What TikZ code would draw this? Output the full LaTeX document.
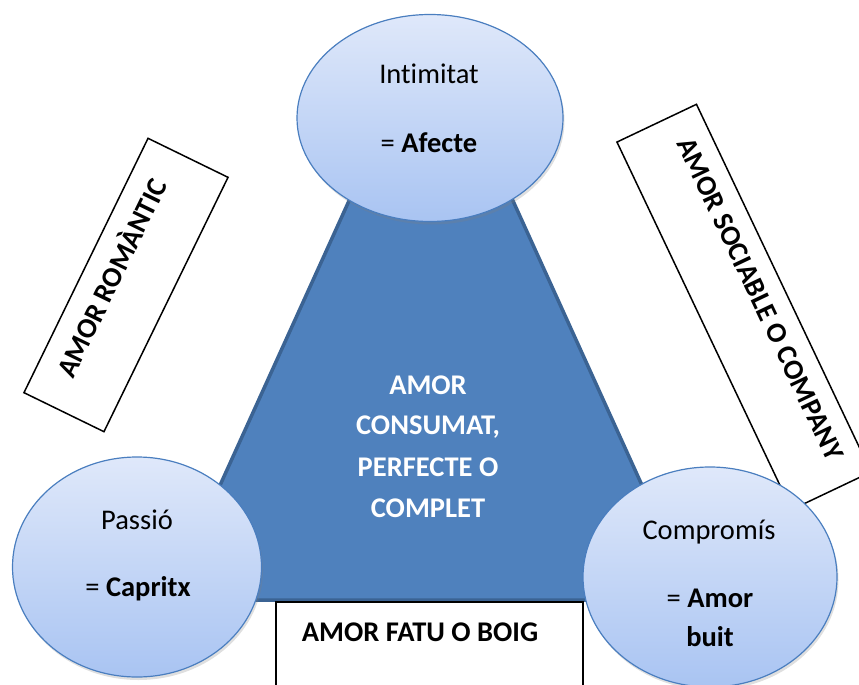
\documentclass[tikz,border=0pt]{standalone}
\usepackage{fontspec}
\setmainfont{Carlito}[Ligatures=NoCommon]
\usetikzlibrary{shapes.geometric,shadows}
\definecolor{triblue}{HTML}{4F81BD}
\definecolor{triedge}{HTML}{3B6393}
\definecolor{elltop}{HTML}{DFE8FA}
\definecolor{ellbot}{HTML}{A9C4F2}
\definecolor{elledge}{HTML}{4A7EBF}
\tikzset{
  txt/.style={inner sep=0pt, anchor=base, font=\fontsize{28.5}{34}\selectfont},
  btxt/.style={txt, font=\fontsize{28.5}{34}\selectfont\bfseries},
  wtxt/.style={btxt, text=white},
  labelbox/.style={draw=black, line width=1.5pt, fill=white, inner sep=0pt,
    font=\fontsize{28.5}{34}\selectfont\bfseries, text height=20pt},
  bubble/.style={ellipse, draw=elledge, line width=1.2pt, inner sep=0pt,
    top color=elltop, bottom color=ellbot,
    drop shadow={opacity=0.25, shadow xshift=1.5pt, shadow yshift=-3pt}},
}
\begin{document}
\begin{tikzpicture}[x=1pt,y=-1pt]
\useasboundingbox (0,0) rectangle (859,685);
\clip (0,0) rectangle (859,685);
% central triangle
\coordinate (apex) at (431,20);
\coordinate (bl) at (168,600);
\coordinate (br) at (694,600);
\fill[triblue] (apex) -- (bl) -- (br) -- cycle;
\draw[triedge, line width=3.5pt, line join=round] (apex) -- (bl) -- (br) -- cycle;
\node[wtxt] (t1) at (428,394) {AMOR};
\node[wtxt] (t2) at (428,434) {CONSUMAT,};
\node[wtxt] (t3) at (428,476) {PERFECTE O};
\node[wtxt] (t4) at (428,517) {COMPLET};
% label boxes
\node[labelbox, rotate=64, minimum width=283pt, minimum height=89pt, text depth=32pt] (rom) at (126,285) {AMOR ROMÀNTIC};
\node[labelbox, rotate=-64.6, minimum width=407pt, minimum height=88pt, text depth=38pt] (soc) at (744,307) {AMOR SOCIABLE O COMPANY};
\node[labelbox, minimum width=307pt, minimum height=120pt] (fat) at (429.5,662) {};
\node[btxt] (fatt) at (420,641) {AMOR FATU O BOIG};
% bubbles
\node[bubble, minimum width=266pt, minimum height=207pt] (int) at (430,118) {};
\node[txt] (intt) at (429,83.5) {Intimitat};
\node[txt] (inta) at (429,152) {= \textbf{Afecte}};
\node[bubble, minimum width=249pt, minimum height=220pt] (pas) at (137,567) {};
\node[txt] (past) at (137,529) {Passió};
\node[txt] (pasa) at (138,596) {= \textbf{Capritx}};
\node[bubble, minimum width=254pt, minimum height=220pt] (com) at (710,577) {};
\node[txt] (comt) at (709,539) {Compromís};
\node[txt] (coma) at (710,607) {= \textbf{Amor}};
\node[btxt] (comb) at (710,646.5) {buit};
\end{tikzpicture}
\end{document}
